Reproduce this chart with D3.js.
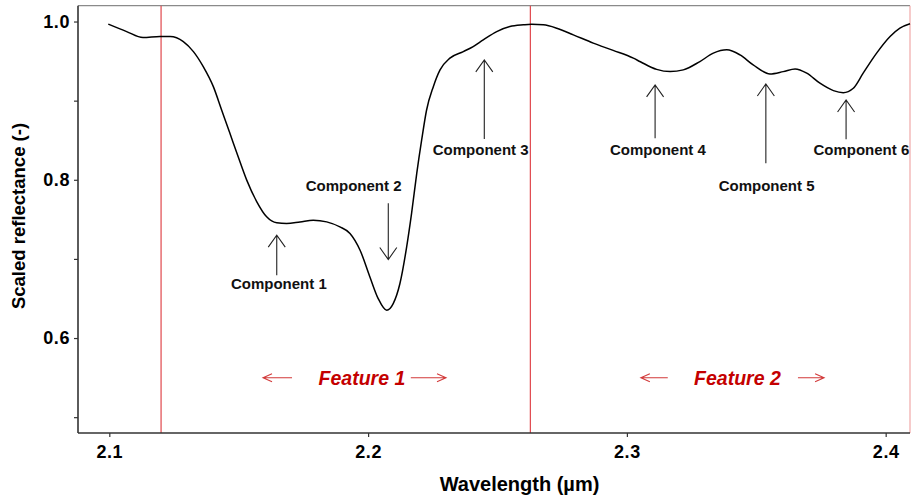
<!DOCTYPE html>
<html>
<head>
<meta charset="utf-8">
<script src="https://cdn.jsdelivr.net/npm/d3@7"></script>
<style>
  html, body { margin: 0; padding: 0; background: #fff; }
  svg { display: block; font-family: "Liberation Sans", Arial, sans-serif; }
</style>
</head>
<body>
<svg id="chart" width="911" height="498"></svg>
<script>
// Continuum-removed spectrum, wavelength in µm
const wavelength = [
  2.0996, 2.1067, 2.1130, 2.1196, 2.1235, 2.1286, 2.1325, 2.1363, 2.1402, 2.1434,
  2.1466, 2.1498, 2.1531, 2.1570, 2.1608, 2.1647, 2.1685, 2.1737, 2.1788, 2.1840,
  2.1891, 2.1930, 2.1969, 2.2007, 2.2039, 2.2072, 2.2097, 2.2123, 2.2149, 2.2168,
  2.2188, 2.2207, 2.2226, 2.2252, 2.2278, 2.2316, 2.2368, 2.2406, 2.2445, 2.2497,
  2.2548, 2.2600, 2.2632, 2.2677, 2.2729, 2.2793, 2.2870, 2.2947, 2.3025, 2.3052,
  2.3115, 2.3167, 2.3218, 2.3282, 2.3334, 2.3386, 2.3437, 2.3488, 2.3553, 2.3604,
  2.3650, 2.3695, 2.3746, 2.3798, 2.3836, 2.3875, 2.3913, 2.3965, 2.4017, 2.4055,
  2.4094
];
const reflectance = [
  0.9967, 0.9873, 0.9797, 0.9810, 0.9810, 0.9747, 0.9620, 0.9430, 0.9177, 0.8882,
  0.8587, 0.8291, 0.7996, 0.7722, 0.7532, 0.7456, 0.7448, 0.7468, 0.7490, 0.7468,
  0.7405, 0.7322, 0.7110, 0.6772, 0.6499, 0.6351, 0.6435, 0.6689, 0.7152, 0.7575,
  0.8081, 0.8503, 0.8882, 0.9177, 0.9389, 0.9537, 0.9620, 0.9684, 0.9768, 0.9873,
  0.9937, 0.9958, 0.9965, 0.9958, 0.9916, 0.9832, 0.9727, 0.9635, 0.9537, 0.9492,
  0.9395, 0.9367, 0.9389, 0.9494, 0.9600, 0.9642, 0.9578, 0.9452, 0.9338, 0.9367,
  0.9401, 0.9347, 0.9220, 0.9127, 0.9101, 0.9157, 0.9347, 0.9600, 0.9810, 0.9916,
  0.9971
];

// Axis ticks
const xTicks = [2.1, 2.2, 2.3, 2.4];
const yTicks = [0.5, 0.6, 0.7, 0.8, 0.9, 1.0];
const yTickLabels = ["", "0.6", "", "0.8", "", "1.0"];

// Feature boundaries (µm)
const featureBounds = [2.12, 2.2627, 2.4094];

// Absorption-feature labels
const featureNames = ["Feature 1", "Feature 2"];
const featureCenter = [2.1976, 2.3427];
const featureTextRefl = [0.5408, 0.5408];
const featureArrowRefl = [0.5499, 0.5499];
const featureLeftArrow = [[2.1706, 2.1594], [2.3158, 2.3054]];
const featureRightArrow = [[2.2165, 2.2301], [2.3661, 2.3762]];

// Component annotations
const componentNames = ["Component 1", "Component 2", "Component 3", "Component 4", "Component 5", "Component 6"];
const componentLabelWl = [2.1655, 2.1944, 2.2435, 2.3120, 2.3540, 2.3906];
const componentLabelRefl = [0.6616, 0.7863, 0.8313, 0.8313, 0.7863, 0.8313];
const componentArrowWl = [2.1647, 2.2078, 2.2449, 2.3109, 2.3537, 2.3847];
const componentArrowFrom = [0.6794, 0.7705, 0.8515, 0.8524, 0.8208, 0.8511];
const componentArrowTo = [0.7300, 0.6992, 0.9515, 0.9199, 0.9211, 0.9009];

const svg = d3.select("#chart");
const plotLeft = 78, plotRight = 910, plotTop = 5.7, plotBottom = 433;

const x = d3.scaleLinear().domain([2.0879, 2.4094]).range([plotLeft, plotRight]);
const y = d3.scaleLinear().domain([0.48, 1.02]).range([plotBottom, plotTop]);

svg.append("rect").attr("width", 911).attr("height", 498).attr("fill", "#fff");

// Top frame line
svg.append("line")
  .attr("x1", plotLeft).attr("x2", plotRight).attr("y1", plotTop).attr("y2", plotTop)
  .attr("stroke", "#8a8a8a").attr("stroke-width", 1.2);

// Feature boundary lines
svg.append("g").selectAll("line").data(featureBounds).join("line")
  .attr("x1", d => x(d)).attr("x2", d => x(d))
  .attr("y1", plotTop).attr("y2", plotBottom)
  .attr("stroke", (d, i) => i === featureBounds.length - 1 ? "#f0a8a8" : "#e0474c")
  .attr("stroke-width", 1.2);

// Axes
const xAxis = d3.axisBottom(x).tickValues(xTicks).tickFormat(d3.format(".1f")).tickSizeOuter(0).tickSize(4).tickPadding(8);
const yAxis = d3.axisLeft(y).tickValues(yTicks).tickFormat((d, i) => yTickLabels[i]).tickSizeOuter(0).tickSize(4).tickPadding(4);

const gx = svg.append("g").attr("transform", `translate(0,${plotBottom})`).call(xAxis);
const gy = svg.append("g").attr("transform", `translate(${plotLeft},0)`).call(yAxis);

[gx, gy].forEach(g => {
  g.select(".domain").attr("stroke", "#333").attr("stroke-width", 1.6);
  g.selectAll(".tick line").attr("stroke", "#333").attr("stroke-width", 1.2);
  g.selectAll(".tick text")
    .attr("fill", "#000")
    .attr("font-family", "'Liberation Sans', Arial, sans-serif")
    .attr("font-weight", "bold")
    .attr("font-size", 18)
    .attr("letter-spacing", 0.6);
});
// Axis lines span the full plot frame
gx.select(".domain").attr("d", `M${plotLeft},0H${plotRight}`);
gy.select(".domain").attr("d", `M0,${plotTop}V${plotBottom}`);

// Axis titles
svg.append("text")
  .attr("x", 519.5).attr("y", 491)
  .attr("text-anchor", "middle")
  .attr("font-weight", "bold").attr("font-size", 20)
  .text("Wavelength (µm)");

svg.append("text")
  .attr("transform", "translate(25,216) rotate(-90)")
  .attr("text-anchor", "middle")
  .attr("font-weight", "bold").attr("font-size", 18.5)
  .text("Scaled reflectance (-)");

// Spectrum
const spectrum = wavelength.map((w, i) => [w, reflectance[i]]);
svg.append("path")
  .datum(spectrum)
  .attr("fill", "none")
  .attr("stroke", "#000")
  .attr("stroke-width", 1.5)
  .attr("d", d3.line().x(d => x(d[0])).y(d => y(d[1])).curve(d3.curveMonotoneX));

// Arrow helper: line from (x1,y1) to (x2,y2) with an open head at the end
function arrow(g, x1, y1, x2, y2, headLen, headHalf, color, width) {
  const dx = x2 - x1, dy = y2 - y1, len = Math.hypot(dx, dy);
  const ux = dx / len, uy = dy / len;
  const bx = x2 - ux * headLen, by = y2 - uy * headLen;
  const px = -uy * headHalf, py = ux * headHalf;
  g.append("path")
    .attr("d", `M${x1},${y1}L${x2},${y2}M${bx + px},${by + py}L${x2},${y2}L${bx - px},${by - py}`)
    .attr("fill", "none").attr("stroke", color).attr("stroke-width", width);
}

// Component arrows and labels
const comp = svg.append("g");
componentNames.forEach((name, i) => {
  arrow(comp, x(componentArrowWl[i]), y(componentArrowFrom[i]),
        x(componentArrowWl[i]), y(componentArrowTo[i]), 12, 8.5, "#222", 1.1);
  comp.append("text")
    .attr("x", x(componentLabelWl[i])).attr("y", y(componentLabelRefl[i]))
    .attr("text-anchor", "middle")
    .attr("font-weight", "bold").attr("font-size", 15)
    .attr("fill", "#111")
    .text(name);
});

// Feature labels with range arrows
const feat = svg.append("g");
featureNames.forEach((name, i) => {
  feat.append("text")
    .attr("x", x(featureCenter[i])).attr("y", y(featureTextRefl[i]))
    .attr("text-anchor", "middle")
    .attr("font-style", "italic").attr("font-weight", "bold").attr("font-size", 19.5)
    .attr("fill", "#c40000")
    .text(name);
  const ay = y(featureArrowRefl[i]);
  arrow(feat, x(featureLeftArrow[i][0]), ay, x(featureLeftArrow[i][1]), ay, 9, 4, "#d23a3a", 1.1);
  arrow(feat, x(featureRightArrow[i][0]), ay, x(featureRightArrow[i][1]), ay, 9, 4, "#d23a3a", 1.1);
});
</script>
</body>
</html>
